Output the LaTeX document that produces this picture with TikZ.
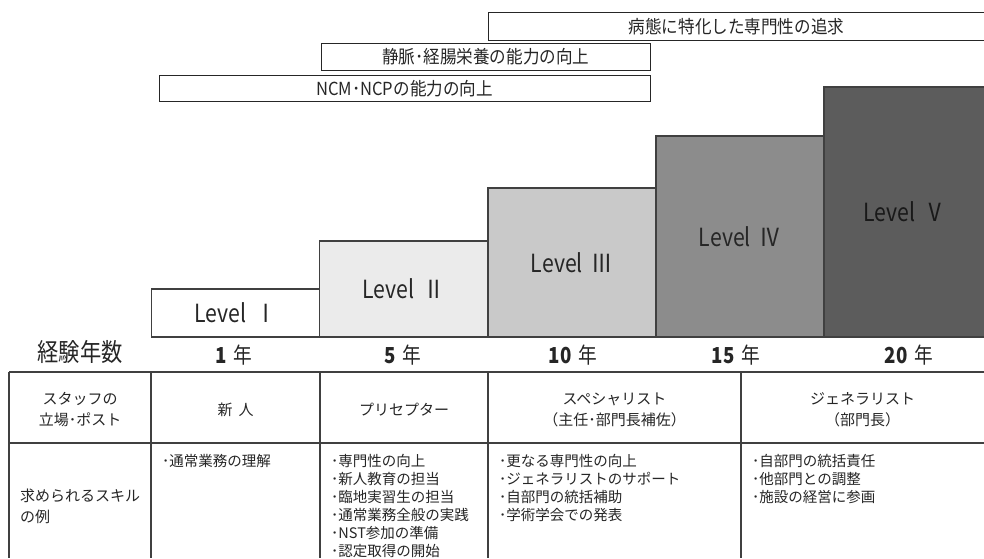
\documentclass[tikz,border=0pt]{standalone}
\usepackage{fontspec}
\setmainfont{Noto Sans CJK JP}
\newfontfamily\cond[FakeStretch=0.85]{Noto Sans CJK JP}
\newfontfamily\condb[FakeStretch=0.92]{Noto Sans CJK JP}
\begin{document}
\begin{tikzpicture}[x=1pt,y=-1pt,
  topbar/.style={draw=black!85,line width=1pt,fill=white,inner sep=0pt,font=\condb\fontsize{18}{20}\selectfont,text=black!85},
  lvbox/.style={draw=black!75,line width=1.2pt,inner sep=0pt,font=\cond\fontsize{25}{28}\selectfont,text=black!85},
  yearlbl/.style={font=\cond\fontsize{22}{24}\selectfont,inner sep=0pt,text=black!85},
  tline/.style={draw=black!75,line width=1.2pt},
  hdr/.style={align=center,font=\fontsize{15}{21}\selectfont,inner sep=0pt,text=black!85},
  lst/.style={align=left,anchor=north west,font=\fontsize{14.5}{18}\selectfont,inner sep=0pt,text=black!85},
]
\useasboundingbox (0,0) rectangle (984,558);
\fill[white] (0,0) rectangle (984,558);

% top bars
\node[topbar, minimum width=497pt, minimum height=27.3pt] (b1) at (736.5,26.35) {病態に特化した専門性の追求};
\node[topbar, minimum width=328.3pt, minimum height=27.4pt] (b2) at (485.85,57) {静脈･経腸栄養の能力の向上};
\node[topbar, minimum width=491pt, minimum height=25.3pt] (b3) at (404.5,88.35) {NCM･NCPの能力の向上};

% level boxes
\node[lvbox, fill=white, minimum width=168pt, minimum height=48pt] (L1) at (235.5,313) {Level\hspace{9pt}Ⅰ};
\node[lvbox, fill=black!8, minimum width=168.5pt, minimum height=96pt] (L2) at (403.75,289) {Level\hspace{9pt}Ⅱ};
\node[lvbox, fill=black!21, minimum width=168pt, minimum height=149pt] (L3) at (572,262.5) {Level\hspace{9pt}Ⅲ};
\node[lvbox, fill=black!45, minimum width=168pt, minimum height=201pt] (L4) at (740,236.5) {Level\hspace{9pt}Ⅳ};
\node[lvbox, fill=black!64, minimum width=161pt, minimum height=250pt, text=black!90] (L5) at (904.5,212) {Level\hspace{9pt}Ⅴ};

% years
\node[yearlbl, font=\cond\fontsize{25}{28}\selectfont] (yrs) at (80,352) {経験年数};
\node[yearlbl] (y1) at (234,355) {\textbf{1}\hspace{7pt}年};
\node[yearlbl] (y5) at (403,355) {\textbf{5}\hspace{7pt}年};
\node[yearlbl] (y10) at (573,355) {\textbf{10}\hspace{7pt}年};
\node[yearlbl] (y15) at (736,355) {\textbf{15}\hspace{7pt}年};
\node[yearlbl] (y20) at (909,355) {\textbf{20}\hspace{7pt}年};

% table grid
\draw[tline] (9,372) -- (984,372);
\draw[tline] (9,443) -- (984,443);
\foreach \xx in {9,151,320,488,741} {\draw[tline] (\xx,372) -- (\xx,558);}

% header row
\node[hdr] (h0) at (80,410) {スタッフの\\立場･ポスト};
\node[hdr] (h1) at (235.5,410) {新\hspace{6pt}人};
\node[hdr] (h2) at (404,410) {プリセプター};
\node[hdr] (h3) at (614.5,410) {スペシャリスト\\（主任･部門長補佐）};
\node[hdr] (h4) at (862.5,410) {ジェネラリスト\\（部門長）};

% skills row
\node[hdr, align=left, anchor=west] (s0) at (20,506) {求められるスキル\\の例};
\node[lst] (s1) at (162,453.7) {･通常業務の理解};
\node[lst] (s2) at (331,453.7) {･専門性の向上\\･新人教育の担当\\･臨地実習生の担当\\･通常業務全般の実践\\･NST参加の準備\\･認定取得の開始};
\node[lst] (s3) at (499,453.7) {･更なる専門性の向上\\･ジェネラリストのサポート\\･自部門の統括補助\\･学術学会での発表};
\node[lst] (s4) at (752,453.7) {･自部門の統括責任\\･他部門との調整\\･施設の経営に参画};
\end{tikzpicture}
\end{document}
